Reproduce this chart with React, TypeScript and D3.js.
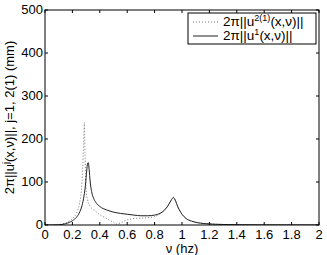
import React from "react";
import * as d3 from "d3";

const xTicks = [0, 0.2, 0.4, 0.6, 0.8, 1, 1.2, 1.4, 1.6, 1.8, 2];
const yTicks = [0, 100, 200, 300, 400, 500];

// solid: 2π||u^1(x,ν)||
const solidX = [0, 0.05, 0.1, 0.15, 0.2, 0.23, 0.25, 0.27, 0.285, 0.295, 0.305, 0.31, 0.316, 0.322, 0.33, 0.34, 0.355, 0.37, 0.4, 0.45, 0.5, 0.55, 0.6, 0.65, 0.7, 0.75, 0.8, 0.84, 0.87, 0.9, 0.92, 0.937, 0.95, 0.97, 1.0, 1.03, 1.07, 1.12, 1.2, 1.3, 1.4, 1.6, 1.8, 2];
const solidY = [0, 0, 0.5, 3, 10, 18, 28, 45, 68, 92, 128, 142, 145, 130, 100, 78, 62, 53, 43, 35, 30, 27, 25, 23, 21.5, 21.5, 23, 27, 34, 46, 57, 64, 58, 42, 25, 15, 9, 5, 2.5, 1.2, 0.6, 0.2, 0.1, 0];

// dotted: 2π||u^2(1)(x,ν)||
const dotX = [0, 0.05, 0.1, 0.15, 0.18, 0.21, 0.23, 0.25, 0.265, 0.275, 0.282, 0.287, 0.292, 0.3, 0.31, 0.325, 0.345, 0.365, 0.4, 0.45, 0.5, 0.52, 0.55, 0.6, 0.65, 0.7, 0.75, 0.8, 0.84, 0.87, 0.9, 0.92, 0.937, 0.95, 0.97, 1.0, 1.03, 1.07, 1.12, 1.2, 1.3, 1.4, 1.6, 1.8, 2];
const dotY = [0, 0, 1, 5, 10, 18, 27, 48, 80, 130, 190, 238, 170, 81, 60, 45, 38, 33, 24, 15, 6, 2, 5, 12, 15, 16, 17, 20, 26, 34, 46, 57, 64, 58, 42, 25, 15, 9, 5, 2.5, 1.2, 0.6, 0.2, 0.1, 0];

const W = 327, H = 255;
const L = 45, R = 319, T = 10, B = 225;

export default function App() {
  const x = d3.scaleLinear().domain([0, 2]).range([L, R]);
  const y = d3.scaleLinear().domain([0, 500]).range([B, T]);
  const line = d3.line<[number, number]>().x(d => x(d[0])).y(d => y(d[1])).curve(d3.curveMonotoneX);
  const solid = line(solidX.map((v, i) => [v, solidY[i]]) as [number, number][]) || "";
  const dotted = line(dotX.map((v, i) => [v, dotY[i]]) as [number, number][]) || "";
  const font = "'Liberation Sans', Arial, sans-serif";
  const tl = 3;
  const fs = 13;
  return (
    <svg width={W} height={H} style={{ position: "absolute", left: 0, top: 0, background: "#fff" }} fontFamily={font}>
      <rect x={0} y={0} width={W} height={H} fill="#fff" />
      <defs>
        <clipPath id="clip"><rect x={L} y={T} width={R - L} height={B - T} /></clipPath>
      </defs>
      <g clipPath="url(#clip)">
        <path d={dotted} fill="none" stroke="#777" strokeWidth={1} strokeDasharray="1,2" />
        <path d={solid} fill="none" stroke="#222" strokeWidth={1} />
      </g>
      <rect x={L} y={T} width={R - L} height={B - T} fill="none" stroke="#000" strokeWidth={1} />
      {xTicks.map(t => (
        <g key={"x" + t}>
          <line x1={x(t)} x2={x(t)} y1={B} y2={B - tl} stroke="#000" />
          <line x1={x(t)} x2={x(t)} y1={T} y2={T + tl} stroke="#000" />
          <text x={x(t)} y={B + 14} fontSize={fs} textAnchor="middle" fill="#000">{String(t)}</text>
        </g>
      ))}
      {yTicks.map(t => (
        <g key={"y" + t}>
          <line x1={L} x2={L + tl} y1={y(t)} y2={y(t)} stroke="#000" />
          <line x1={R} x2={R - tl} y1={y(t)} y2={y(t)} stroke="#000" />
          <text x={L - 2} y={y(t) + 4} fontSize={fs} textAnchor="end" fill="#000">{String(t)}</text>
        </g>
      ))}
      <text x={(L + R) / 2} y={253} fontSize={fs} textAnchor="middle" fill="#000">ν (hz)</text>
      <text transform={`translate(14,${(T + B) / 2}) rotate(-90)`} fontSize={fs} textAnchor="middle" fill="#000">
        2π||u<tspan dy={-5} fontSize={9}>j</tspan><tspan dy={5}>(x,ν)||, j=1, 2(1) (mm)</tspan>
      </text>
      <rect x={188} y={13} width={128} height={31} fill="#fff" stroke="#000" strokeWidth={1} />
      <line x1={193} x2={218} y1={22} y2={22} stroke="#777" strokeDasharray="1,2" />
      <text x={223} y={26} fontSize={13.5} fill="#000">
        2π||u<tspan dy={-5} fontSize={9}>2(1)</tspan><tspan dy={5}>(x,ν)||</tspan>
      </text>
      <line x1={193} x2={218} y1={36} y2={36} stroke="#222" />
      <text x={223} y={40} fontSize={13.5} fill="#000">
        2π||u<tspan dy={-5} fontSize={9}>1</tspan><tspan dy={5}>(x,ν)||</tspan>
      </text>
    </svg>
  );
}
